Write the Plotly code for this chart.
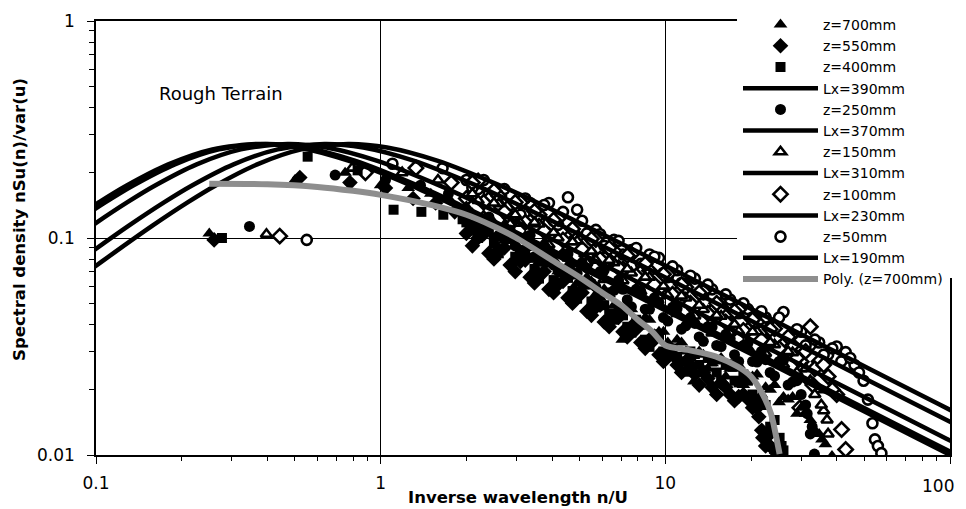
import plotly.graph_objects as go

# ---------------- data ----------------
# von Karman fit lines: common normalised shape, x positions per integral length scale
VK_Y = [0.0592, 0.0782, 0.1140, 0.1463, 0.1746, 0.2185, 0.2561, 0.2713, 0.2612, 0.2271,
        0.1742, 0.1423, 0.1136, 0.0872, 0.0722, 0.0552, 0.0393, 0.0314, 0.0248, 0.0189,
        0.0156, 0.01192, 0.00984]
LX390_X = [0.0385, 0.0513, 0.0769, 0.1026, 0.1282, 0.1795, 0.2564, 0.3744, 0.5128, 0.7692,
           1.282, 1.795, 2.564, 3.846, 5.128, 7.692, 12.82, 17.95, 25.64, 38.46, 51.28, 76.92, 102.6]
LX370_X = [0.0405, 0.0541, 0.0811, 0.1081, 0.1351, 0.1892, 0.2703, 0.3946, 0.5405, 0.8108,
           1.351, 1.892, 2.703, 4.054, 5.405, 8.108, 13.51, 18.92, 27.03, 40.54, 54.05, 81.08, 108.1]
LX310_X = [0.0484, 0.0645, 0.0968, 0.129, 0.1613, 0.2258, 0.3226, 0.471, 0.6452, 0.9677,
           1.613, 2.258, 3.226, 4.839, 6.452, 9.677, 16.13, 22.58, 32.26, 48.39, 64.52, 96.77, 129.0]
LX230_X = [0.0652, 0.087, 0.1304, 0.1739, 0.2174, 0.3043, 0.4348, 0.6348, 0.8696, 1.304,
           2.174, 3.043, 4.348, 6.522, 8.696, 13.04, 21.74, 30.43, 43.48, 65.22, 86.96, 130.4, 173.9]
LX190_X = [0.0789, 0.1053, 0.1579, 0.2105, 0.2632, 0.3684, 0.5263, 0.7684, 1.053, 1.579,
           2.632, 3.684, 5.263, 7.895, 10.53, 15.79, 26.32, 36.84, 52.63, 78.95, 105.3, 157.9, 210.5]

# polynomial trend (z=700mm)
POLY_X = [0.25, 0.4, 0.6, 0.8, 1.0, 1.5, 2.0, 2.5, 3.0, 4.0, 5.0, 6.0, 7.0, 8.0, 9.0, 10,
          12, 15, 18, 20, 22, 23.5, 24.5, 25.2]
POLY_Y = [0.178, 0.177, 0.172, 0.165, 0.158, 0.142, 0.128, 0.113, 0.1, 0.079, 0.066, 0.056,
          0.049, 0.042, 0.037, 0.032, 0.0305, 0.0285, 0.0255, 0.023, 0.019, 0.0155, 0.0122, 0.0101]

# in-between spectral bins shared by the measured series
F_MID = [2.1, 2.3, 2.5, 2.72, 2.97, 3.22, 3.47, 3.75, 4.05, 4.37, 4.72, 5.1, 5.5, 5.9, 6.35, 6.85,
         7.35, 7.9, 8.5, 9.15, 9.85, 10.6, 11.4, 12.25, 13.15, 14.1, 15.15, 16.3, 17.5, 18.8,
         20.25, 21.75, 23.35, 25.1, 27, 29, 31.1, 33.5, 36, 38.6, 41.5, 44.6, 47.9, 51.5, 55.4]

# measured spectra
Z700_X = [0.25, 0.5, 0.75, 1.0, 1.25, 1.5, 1.75, 2.0, 2.2, 2.4, 2.6, 2.85, 3.1, 3.35, 3.6, 3.9,
          4.2, 4.55, 4.9, 5.3, 5.7, 6.1, 6.6, 7.06, 7.6, 8.2, 8.8, 9.2, 9.5, 10.2, 11, 11.8, 12.2,
          12.6, 13.6, 14.6, 15.7, 16.9, 18.1, 19.5, 21, 22.5, 24.2, 26, 28, 30, 32.3, 34.7, 36.5, 38.5]
Z700_Y = [0.105, 0.185, 0.2, 0.175, 0.17, 0.16, 0.15, 0.14, 0.115, 0.12, 0.1, 0.105, 0.088, 0.094,
          0.078, 0.083, 0.07, 0.075, 0.062, 0.066, 0.055, 0.058, 0.049, 0.034, 0.047, 0.04, 0.042,
          0.034, 0.037, 0.033, 0.034, 0.03, 0.0255, 0.0218, 0.029, 0.0265, 0.028, 0.025, 0.026,
          0.023, 0.0235, 0.0205, 0.021, 0.0185, 0.0185, 0.0165, 0.0145, 0.0125, 0.0112, 0.0099]
Z700_XM = F_MID[:38] + [35.5]
Z700_YM = [0.13, 0.11, 0.118, 0.097, 0.102, 0.085, 0.09, 0.076, 0.08, 0.068, 0.071, 0.06, 0.063,
           0.053, 0.055, 0.046, 0.048, 0.041, 0.043, 0.036, 0.037, 0.031, 0.033, 0.028, 0.03,
           0.025, 0.027, 0.023, 0.025, 0.021, 0.023, 0.019, 0.02, 0.0175, 0.018, 0.0155, 0.0155,
           0.013, 0.0118]

Z550_X = [0.26, 0.52, 0.78, 1.04, 1.3, 1.56, 1.82, 2.0, 2.2, 2.4, 2.6, 2.85, 3.1, 3.35, 3.6, 3.9,
          4.2, 4.55, 4.9, 5.3, 5.7, 6.1, 6.6, 7.1, 7.6, 8.2, 8.8, 9.5, 10.2, 11, 11.8, 12.7, 13.6,
          14.6, 15.7, 16.9, 18.1, 19.5, 21, 21.8, 22.5, 23.3, 24.2]
Z550_Y = [0.098, 0.19, 0.18, 0.17, 0.152, 0.145, 0.132, 0.105, 0.1, 0.085, 0.088, 0.075, 0.078,
          0.066, 0.068, 0.058, 0.061, 0.053, 0.055, 0.046, 0.048, 0.041, 0.043, 0.037, 0.039,
          0.033, 0.034, 0.029, 0.03, 0.026, 0.027, 0.0235, 0.024, 0.0205, 0.0215, 0.019, 0.0186,
          0.0181, 0.0165, 0.013, 0.011, 0.0125, 0.0105]
Z550_XM = F_MID[:31] + [21.3, 22.0, 23.0, 24.6]
Z550_YM = [0.092, 0.104, 0.08, 0.09, 0.07, 0.079, 0.062, 0.07, 0.056, 0.063, 0.05, 0.056, 0.044,
           0.049, 0.039, 0.043, 0.035, 0.038, 0.031, 0.034, 0.027, 0.029, 0.024, 0.026, 0.021,
           0.0225, 0.019, 0.0205, 0.0178, 0.019, 0.0165, 0.015, 0.012, 0.0112, 0.0102]

Z400_X = [0.277, 0.554, 0.83, 1.11, 1.39, 1.66, 1.94, 2.0, 2.2, 2.4, 2.6, 2.85, 3.1, 3.35, 3.6, 3.9,
          4.2, 4.55, 4.9, 5.3, 5.7, 6.1, 6.6, 7.1, 7.6, 8.2, 8.8, 9.5, 10.2, 11, 11.8, 12.7, 13.6,
          14.6, 15.7, 16.9, 18.1, 19.5, 21, 22.5, 24.2, 25.2, 26]
Z400_Y = [0.1, 0.237, 0.205, 0.135, 0.132, 0.128, 0.122, 0.118, 0.1, 0.108, 0.085, 0.099, 0.08,
          0.081, 0.065, 0.077, 0.062, 0.0655, 0.0525, 0.061, 0.049, 0.049, 0.042, 0.044, 0.0366,
          0.0399, 0.0315, 0.0352, 0.0285, 0.0283, 0.0242, 0.0292, 0.0246, 0.027, 0.0218, 0.0262,
          0.0216, 0.022, 0.0176, 0.017, 0.0145, 0.012, 0.0105]
Z400_XM = F_MID[:33] + [25.6]
Z400_YM = [0.108, 0.115, 0.094, 0.1, 0.082, 0.088, 0.072, 0.079, 0.064, 0.07, 0.057, 0.063, 0.051,
           0.055, 0.045, 0.047, 0.039, 0.042, 0.034, 0.036, 0.03, 0.031, 0.027, 0.03, 0.026,
           0.028, 0.024, 0.026, 0.022, 0.0235, 0.019, 0.018, 0.0135, 0.011]

Z250_X = [0.346, 0.692, 1.04, 1.38, 1.73, 2.0, 2.2, 2.4, 2.6, 2.85, 3.1, 3.35, 3.6, 3.9, 4.2, 4.55,
          4.9, 5.3, 5.7, 6.1, 6.6, 7.1, 7.6, 8.2, 8.8, 9.5, 10.2, 11, 11.8, 12.7, 13.6, 14.6, 15.7,
          16.9, 18.1, 19.5, 21, 22.5, 24.2, 26, 28, 30, 31.5, 32.3, 33.4]
Z250_Y = [0.113, 0.195, 0.185, 0.175, 0.16, 0.126, 0.109, 0.125, 0.103, 0.109, 0.086, 0.103,
          0.0855, 0.087, 0.0705, 0.0845, 0.0688, 0.0728, 0.0596, 0.071, 0.0573, 0.058, 0.0482,
          0.0567, 0.0469, 0.0504, 0.0414, 0.0473, 0.0394, 0.0404, 0.0334, 0.0389, 0.0316, 0.0343,
          0.027, 0.0327, 0.0268, 0.0275, 0.0231, 0.0273, 0.0217, 0.019, 0.0155, 0.0125, 0.0101]
Z250_XM = F_MID[:37] + [32.8]
Z250_YM = [0.115, 0.122, 0.1, 0.112, 0.092, 0.1, 0.082, 0.092, 0.075, 0.084, 0.068, 0.077, 0.062,
           0.07, 0.056, 0.064, 0.052, 0.058, 0.047, 0.053, 0.043, 0.048, 0.038, 0.043, 0.035,
           0.039, 0.032, 0.036, 0.029, 0.032, 0.027, 0.03, 0.024, 0.027, 0.021, 0.022, 0.017, 0.0135]

Z150_X = [0.397, 0.794, 1.19, 1.59, 2.0, 2.2, 2.4, 2.6, 2.85, 3.1, 3.35, 3.6, 3.9, 4.2, 4.55, 4.9,
          5.3, 5.7, 6.1, 6.6, 7.1, 7.6, 8.2, 8.8, 9.5, 10.2, 11, 11.8, 12.7, 13.6, 14.6, 15.7, 16.9,
          18.1, 19.5, 21, 22.5, 24.2, 26, 28, 30, 32.3, 34.7, 36, 37.3, 37.0]
Z150_Y = [0.104, 0.21, 0.2, 0.185, 0.136, 0.149, 0.121, 0.144, 0.116, 0.117, 0.096, 0.116, 0.093,
          0.1, 0.081, 0.097, 0.077, 0.079, 0.0645, 0.077, 0.0635, 0.069, 0.0567, 0.066, 0.054,
          0.0545, 0.0449, 0.0529, 0.0437, 0.0468, 0.0365, 0.0436, 0.0367, 0.0372, 0.0312, 0.037,
          0.0294, 0.0322, 0.0261, 0.0296, 0.025, 0.022, 0.02, 0.016, 0.0125, 0.0145]
Z150_XM = F_MID[:38] + [35.3]
Z150_YM = [0.16, 0.126, 0.145, 0.114, 0.128, 0.101, 0.118, 0.094, 0.106, 0.085, 0.096, 0.077,
           0.087, 0.069, 0.079, 0.063, 0.072, 0.058, 0.066, 0.053, 0.06, 0.048, 0.054, 0.043,
           0.049, 0.039, 0.044, 0.036, 0.04, 0.032, 0.037, 0.029, 0.033, 0.027, 0.03, 0.024,
           0.025, 0.019, 0.017]

Z100_X = [0.442, 0.884, 1.33, 1.77, 2.0, 2.2, 2.4, 2.6, 2.85, 3.1, 3.35, 3.6, 3.9, 4.2, 4.55, 4.9,
          5.3, 5.7, 6.1, 6.6, 7.1, 7.6, 8.2, 8.8, 9.5, 10.2, 11, 11.8, 12.7, 13.6, 14.6, 15.7, 16.9,
          18.1, 19.5, 21, 22.5, 24.2, 26, 28, 30, 29.7, 32.3, 33.0, 34.7, 37.3, 40.0, 41.6, 43.0]
Z100_Y = [0.102, 0.2, 0.21, 0.18, 0.152, 0.183, 0.151, 0.156, 0.124, 0.146, 0.119, 0.128, 0.103,
          0.123, 0.0996, 0.101, 0.0826, 0.0984, 0.0805, 0.0872, 0.072, 0.0842, 0.0694, 0.0707,
          0.0581, 0.068, 0.0553, 0.0593, 0.047, 0.0567, 0.0461, 0.0479, 0.04, 0.0468, 0.0377,
          0.041, 0.0333, 0.0382, 0.0323, 0.032, 0.0269, 0.0165, 0.039, 0.021, 0.027, 0.023,
          0.019, 0.0131, 0.0106]
Z100_XM = F_MID[:40]
Z100_YM = [0.18, 0.146, 0.165, 0.132, 0.146, 0.118, 0.133, 0.108, 0.121, 0.098, 0.11, 0.089,
           0.099, 0.08, 0.09, 0.073, 0.083, 0.067, 0.076, 0.061, 0.068, 0.055, 0.061, 0.05,
           0.056, 0.045, 0.05, 0.041, 0.046, 0.0375, 0.042, 0.034, 0.038, 0.031, 0.035, 0.028,
           0.03, 0.025, 0.026, 0.02]

Z50_X = [0.55, 1.1, 1.65, 2.0, 2.2, 2.4, 2.6, 2.85, 3.1, 3.35, 3.6, 3.9, 4.2, 4.55, 4.9, 5.3, 5.7,
         6.1, 6.6, 7.1, 7.6, 8.2, 8.8, 9.5, 10.2, 11, 11.8, 12.7, 13.6, 14.6, 15.7, 16.9, 18.1,
         19.5, 21, 22.5, 24.2, 26, 28, 30, 32.3, 34.7, 37.3, 40, 43, 46.2, 49.7, 51.5, 53.4,
         54.5, 55.8, 57.4]
Z50_Y = [0.098, 0.22, 0.21, 0.185, 0.168, 0.16, 0.142, 0.142, 0.128, 0.145, 0.122, 0.145, 0.115,
         0.154, 0.135, 0.105, 0.109, 0.092, 0.098, 0.084, 0.088, 0.076, 0.084, 0.081, 0.066,
         0.071, 0.06, 0.065, 0.055, 0.058, 0.05, 0.052, 0.045, 0.047, 0.041, 0.043, 0.039,
         0.0456, 0.036, 0.037, 0.032, 0.033, 0.029, 0.0316, 0.0298, 0.026, 0.022, 0.018, 0.014,
         0.0118, 0.011, 0.0102]
Z50_XM = F_MID[:43]
Z50_YM = [0.17, 0.185, 0.158, 0.168, 0.145, 0.152, 0.13, 0.142, 0.12, 0.132, 0.11, 0.12, 0.098,
          0.104, 0.089, 0.097, 0.083, 0.09, 0.076, 0.082, 0.069, 0.074, 0.062, 0.067, 0.056,
          0.061, 0.05, 0.055, 0.046, 0.05, 0.043, 0.046, 0.039, 0.043, 0.035, 0.038, 0.032,
          0.034, 0.029, 0.031, 0.027, 0.028, 0.024]

X_TICKS = [0.1, 1, 10, 100]
X_TICKTEXT = ["0.1", "1", "10", ""]     # "100" is written as an annotation so it stays on canvas
X_LAST_LABEL = "100"
Y_TICKS = [0.01, 0.1, 1]
Y_TICKTEXT = ["0.01", "0.1", "1"]
X_MINOR = [m * d for d in (0.1, 1, 10) for m in range(2, 10)]
Y_MINOR = [m * d for d in (0.01, 0.1) for m in range(2, 10)]

FONT = "DejaVu Sans"
FIG_W, FIG_H = 958, 501   # page body has an 8px margin inside the 966x509 window
fig = go.Figure()


def line_trace(x, y, name, rank, color="black", width=4.5):
    return go.Scatter(x=x, y=y, mode="lines", name=name, legendrank=rank,
                      line=dict(color=color, width=width, shape="spline", smoothing=0.8))


def mark_trace(xa, ya, xb, yb, name, rank, symbol, size, hollow=False):
    na, nb = min(len(xa), len(ya)), min(len(xb), len(yb))
    x = list(xa[:na]) + list(xb[:nb])
    y = list(ya[:na]) + list(yb[:nb])
    if hollow:
        mk = dict(symbol=symbol, size=size, color="white", line=dict(color="black", width=2.6))
    else:
        mk = dict(symbol=symbol, size=size, color="black", line=dict(color="black", width=0))
    return go.Scatter(x=x, y=y, mode="markers", name=name, legendrank=rank, marker=mk)


# hollow series underneath, then fitted lines, then solid series, then the trend line
fig.add_trace(mark_trace(Z50_X, Z50_Y, Z50_XM, Z50_YM, "z=50mm", 11, "circle", 10, hollow=True))
fig.add_trace(mark_trace(Z100_X, Z100_Y, Z100_XM, Z100_YM, "z=100mm", 9, "diamond", 11, hollow=True))
fig.add_trace(mark_trace(Z150_X, Z150_Y, Z150_XM, Z150_YM, "z=150mm", 7, "triangle-up", 10, hollow=True))

fig.add_trace(line_trace(LX390_X, VK_Y, "Lx=390mm", 4))
fig.add_trace(line_trace(LX370_X, VK_Y, "Lx=370mm", 6))
fig.add_trace(line_trace(LX310_X, VK_Y, "Lx=310mm", 8))
fig.add_trace(line_trace(LX230_X, VK_Y, "Lx=230mm", 10))
fig.add_trace(line_trace(LX190_X, VK_Y, "Lx=190mm", 12))

fig.add_trace(mark_trace(Z250_X, Z250_Y, Z250_XM, Z250_YM, "z=250mm", 5, "circle", 11))
fig.add_trace(mark_trace(Z400_X, Z400_Y, Z400_XM, Z400_YM, "z=400mm", 3, "square", 10))
fig.add_trace(mark_trace(Z550_X, Z550_Y, Z550_XM, Z550_YM, "z=550mm", 2, "diamond", 12))
fig.add_trace(mark_trace(Z700_X, Z700_Y, Z700_XM, Z700_YM, "z=700mm", 1, "triangle-up", 12))

fig.add_trace(line_trace(POLY_X, POLY_Y, "Poly. (z=700mm)", 13, color="#8e8e8e", width=6))

axis_common = dict(type="log", showline=True, linecolor="black", linewidth=1.5, mirror=True,
                   showgrid=True, gridcolor="black", gridwidth=1, zeroline=False,
                   ticks="outside", ticklen=7, tickcolor="black", tickwidth=1,
                   tickfont=dict(family=FONT, size=17, color="black"))

fig.update_xaxes(range=[-1, 2], tickvals=X_TICKS, ticktext=X_TICKTEXT, ticklabelstandoff=5,
                 minor=dict(tickvals=X_MINOR, ticks="outside", ticklen=4, tickcolor="black",
                            showgrid=False), **axis_common)
fig.update_yaxes(range=[-2, 0], tickvals=Y_TICKS, ticktext=Y_TICKTEXT, ticklabelstandoff=9,
                 minor=dict(tickvals=Y_MINOR, ticks="outside", ticklen=5, tickcolor="black",
                            showgrid=False), **axis_common)

fig.update_layout(
    width=FIG_W, height=FIG_H,
    margin=dict(l=88, r=16, t=13, b=54, autoexpand=False),
    paper_bgcolor="white", plot_bgcolor="white",
    showlegend=True,
    legend=dict(x=730 / FIG_W, y=1 - 1 / FIG_H, xref="container", yref="container",
                xanchor="left", yanchor="top", bgcolor="white", borderwidth=0,
                font=dict(family=FONT, size=14, color="black"), maxheight=480,
                itemwidth=75, tracegroupgap=0),
    shapes=[dict(type="rect", xref="paper", yref="paper", x0=0.7506, x1=1.05, y0=0.408, y1=1.06,
                 fillcolor="white", line=dict(width=0), layer="above")],
    annotations=[
        dict(text=X_LAST_LABEL, xref="paper", yref="paper", x=1.0, y=-0.0714, xshift=-12,
             xanchor="center", yanchor="middle", showarrow=False,
             font=dict(family=FONT, size=17, color="black")),
        dict(text="Rough Terrain", xref="paper", yref="paper", x=0.146, y=0.834,
             xanchor="center", yanchor="middle",
             showarrow=False, font=dict(family=FONT, size=18, color="black")),
        dict(text="<b>Inverse wavelength n/U</b>", xref="paper", yref="paper", x=0.494, y=-0.099,
             xanchor="center", yanchor="middle",
             showarrow=False, font=dict(family=FONT, size=16.5, color="black")),
        dict(text="<b>Spectral density nSu(n)/var(u)</b>", xref="paper", yref="paper",
             x=-0.089, y=0.544, textangle=-90, showarrow=False, xanchor="center", yanchor="middle",
             font=dict(family=FONT, size=16.5, color="black")),
    ],
)

fig.write_html("out.html")
